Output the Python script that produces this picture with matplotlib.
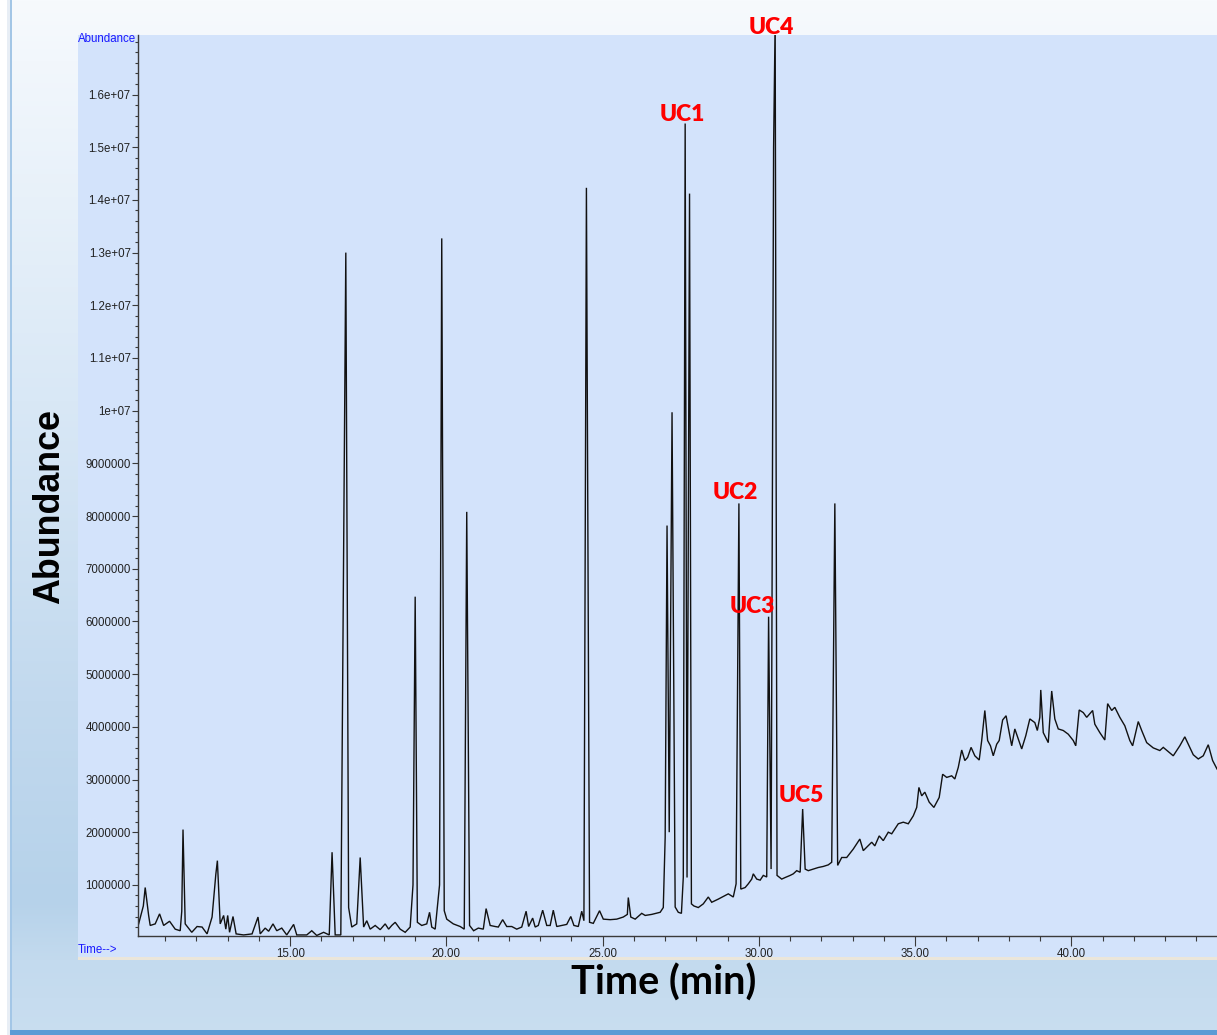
import numpy as np
import matplotlib
matplotlib.use("Agg")
import matplotlib.pyplot as plt
from matplotlib.patches import Rectangle
from matplotlib.ticker import FixedLocator, FixedFormatter

# ---------------- data ----------------
time_min = [
    10.15, 10.30, 10.36, 10.47, 10.52, 10.68, 10.82, 10.95, 11.14, 11.32, 11.48, 11.53, 11.57, 11.64,
    11.85, 12.02, 12.18, 12.34, 12.50, 12.62, 12.67, 12.76, 12.87, 12.94, 13.00, 13.06, 13.17, 13.27,
    13.51, 13.78, 13.97, 14.04, 14.20, 14.31, 14.45, 14.57, 14.73, 14.89, 15.11, 15.21, 15.53, 15.69,
    15.85, 16.07, 16.25, 16.34, 16.44, 16.62, 16.78, 16.87, 16.97, 17.13, 17.24, 17.35, 17.45, 17.56,
    17.72, 17.88, 18.04, 18.15, 18.25, 18.36, 18.52, 18.68, 18.84, 18.93, 19.00, 19.07, 19.21, 19.37,
    19.46, 19.53, 19.64, 19.78, 19.85, 19.93, 20.01, 20.22, 20.44, 20.57, 20.65, 20.74, 20.87, 21.02,
    21.18, 21.27, 21.40, 21.56, 21.66, 21.80, 21.93, 22.09, 22.25, 22.41, 22.55, 22.63, 22.76, 22.84,
    22.94, 23.08, 23.21, 23.32, 23.42, 23.53, 23.69, 23.85, 23.98, 24.08, 24.22, 24.33, 24.40, 24.48,
    24.58, 24.70, 24.90, 25.02, 25.24, 25.45, 25.66, 25.79, 25.82, 25.90, 26.04, 26.25, 26.36, 26.57,
    26.84, 26.94, 27.00, 27.06, 27.13, 27.22, 27.32, 27.42, 27.52, 27.58, 27.64, 27.70, 27.78, 27.84,
    27.92, 28.06, 28.22, 28.38, 28.49, 28.70, 28.92, 29.02, 29.18, 29.27, 29.36, 29.42, 29.56, 29.66,
    29.77, 29.82, 29.93, 30.04, 30.14, 30.25, 30.31, 30.39, 30.47, 30.52, 30.58, 30.73, 30.84, 31.00,
    31.10, 31.21, 31.32, 31.40, 31.48, 31.58, 31.74, 31.90, 32.06, 32.22, 32.33, 32.43, 32.52, 32.65,
    32.81, 33.02, 33.23, 33.34, 33.61, 33.71, 33.85, 33.98, 34.14, 34.25, 34.46, 34.62, 34.78, 34.94,
    35.05, 35.12, 35.21, 35.31, 35.45, 35.60, 35.77, 35.88, 36.01, 36.17, 36.27, 36.38, 36.49, 36.59,
    36.68, 36.79, 36.91, 37.05, 37.13, 37.23, 37.32, 37.41, 37.50, 37.61, 37.69, 37.80, 37.91, 37.98,
    38.09, 38.19, 38.41, 38.54, 38.67, 38.83, 38.91, 38.99, 39.02, 39.10, 39.26, 39.37, 39.47, 39.58,
    39.74, 39.90, 40.06, 40.14, 40.25, 40.38, 40.49, 40.68, 40.75, 40.91, 41.07, 41.16, 41.29, 41.39,
    41.55, 41.71, 41.87, 41.96, 42.14, 42.25, 42.41, 42.62, 42.83, 42.94, 43.10, 43.26, 43.47, 43.63,
    43.74, 43.90, 44.06, 44.22, 44.38, 44.52, 44.66,
]
abundance_M = [
    0.26, 0.60, 0.95, 0.42, 0.23, 0.26, 0.45, 0.23, 0.31, 0.16, 0.13, 0.50, 2.05, 0.26,
    0.10, 0.21, 0.20, 0.07, 0.39, 1.20, 1.46, 0.26, 0.42, 0.16, 0.42, 0.10, 0.40, 0.07,
    0.05, 0.07, 0.39, 0.07, 0.18, 0.12, 0.26, 0.13, 0.18, 0.05, 0.25, 0.05, 0.05, 0.13,
    0.04, 0.10, 0.05, 1.62, 0.05, 0.05, 13.00, 0.57, 0.20, 0.26, 1.52, 0.20, 0.32, 0.16,
    0.23, 0.15, 0.26, 0.16, 0.23, 0.29, 0.16, 0.10, 0.20, 1.00, 6.47, 0.29, 0.23, 0.26,
    0.48, 0.20, 0.16, 1.00, 13.27, 0.51, 0.35, 0.26, 0.21, 0.16, 8.08, 0.23, 0.13, 0.18,
    0.16, 0.55, 0.23, 0.21, 0.20, 0.34, 0.21, 0.21, 0.16, 0.20, 0.50, 0.21, 0.37, 0.20,
    0.23, 0.52, 0.23, 0.23, 0.52, 0.21, 0.23, 0.25, 0.40, 0.23, 0.21, 0.50, 0.32, 14.23,
    0.29, 0.27, 0.51, 0.35, 0.34, 0.35, 0.39, 0.44, 0.76, 0.39, 0.35, 0.46, 0.42, 0.44,
    0.48, 0.57, 1.90, 7.82, 2.00, 9.97, 0.58, 0.48, 0.46, 1.14, 15.45, 1.14, 14.12, 0.64,
    0.60, 0.57, 0.64, 0.77, 0.67, 0.73, 0.80, 0.83, 0.77, 1.02, 8.24, 0.92, 0.95, 1.02,
    1.11, 1.21, 1.11, 1.09, 1.18, 1.15, 6.09, 1.30, 15.00, 17.40, 1.18, 1.11, 1.14, 1.18,
    1.21, 1.27, 1.24, 2.44, 1.30, 1.27, 1.30, 1.33, 1.35, 1.38, 1.43, 8.24, 1.37, 1.52,
    1.52, 1.68, 1.87, 1.65, 1.81, 1.74, 1.93, 1.84, 2.00, 1.97, 2.16, 2.19, 2.16, 2.31,
    2.47, 2.85, 2.69, 2.76, 2.57, 2.47, 2.66, 3.10, 3.04, 3.07, 3.01, 3.23, 3.56, 3.36,
    3.42, 3.61, 3.45, 3.37, 3.74, 4.31, 3.74, 3.64, 3.45, 3.67, 3.74, 4.13, 4.21, 3.99,
    3.64, 3.96, 3.58, 3.83, 4.15, 4.08, 3.93, 4.18, 4.70, 3.89, 3.70, 4.68, 4.15, 3.96,
    3.93, 3.86, 3.74, 3.64, 4.32, 4.27, 4.18, 4.31, 4.05, 3.89, 3.75, 4.44, 4.31, 4.37,
    4.18, 4.02, 3.74, 3.64, 4.10, 3.93, 3.70, 3.60, 3.55, 3.61, 3.53, 3.45, 3.64, 3.81,
    3.67, 3.47, 3.39, 3.45, 3.66, 3.36, 3.20,
]
SCALE = 1e6

# annotated peaks (label anchor positions, time / abundance in millions)
uc_labels = ["UC1", "UC2", "UC3", "UC4", "UC5"]
uc_label_time = [27.54, 29.24, 29.80, 30.39, 31.34]
uc_label_abund_M = [15.50, 8.32, 6.16, 17.14, 2.57]

x_major = [15, 20, 25, 30, 35, 40]
x_major_labels = ["15.00", "20.00", "25.00", "30.00", "35.00", "40.00"]
x_minor = list(range(11, 45))
y_major_M = list(range(1, 17))
y_major_labels = ["1000000", "2000000", "3000000", "4000000", "5000000", "6000000",
                  "7000000", "8000000", "9000000", "1e+07", "1.1e+07", "1.2e+07",
                  "1.3e+07", "1.4e+07", "1.5e+07", "1.6e+07"]
y_minor_M = [i * 0.2 for i in range(0, 86)]

# ---------------- figure ----------------
W, H = 1217, 1035
fig = plt.figure(figsize=(W / 100, H / 100), dpi=100)

bg = fig.add_axes([0, 0, 1, 1])
bg.set_xlim(0, W)
bg.set_ylim(H, 0)
bg.axis("off")

# vertical background gradient
stops_y = [0, 60, 400, 700, 900, 960, 1035]
stops_c = ["#f7fafd", "#f2f7fc", "#d9e8f6", "#c2d9ee", "#b6d2ea", "#c3daee", "#c9def0"]
rgb = np.array([matplotlib.colors.to_rgb(c) for c in stops_c])
yy = np.arange(H)
grad = np.stack([np.interp(yy, stops_y, rgb[:, k]) for k in range(3)], axis=-1)[:, None, :]
bg.imshow(grad, extent=[0, W, H, 0], aspect="auto", zorder=0)

bg.add_patch(Rectangle((0, 0), 10, H, facecolor="white", edgecolor="none", zorder=1))
bg.add_patch(Rectangle((7, 0), 3, H, facecolor="#e8eef5", edgecolor="none", zorder=1))
bg.add_patch(Rectangle((10, 0), 2.2, H, facecolor="#a3c6e6", edgecolor="none", zorder=2))
bg.add_patch(Rectangle((10, 1030), W, 5, facecolor="#5b9bd5", edgecolor="none", zorder=2))
# chart panel
bg.add_patch(Rectangle((78, 35), W - 78, 922, facecolor="#d3e3fb", edgecolor="none", zorder=2))
bg.add_patch(Rectangle((78, 957), W - 78, 2.5, facecolor="#ebe6da", edgecolor="none", zorder=2))

bg.text(78, 33.5, "Abundance", color="#1a1aff", fontsize=8.3, family="Liberation Sans",
        ha="left", va="top", zorder=3)
bg.text(78, 950, "Time-->", color="#1a1aff", fontsize=8.3, family="Liberation Sans",
        ha="left", va="center", zorder=3)

bg.text(50, 507, "Abundance", rotation=90, fontsize=25.8, fontweight="bold",
        family="Liberation Sans", ha="center", va="center", color="black", zorder=3)
bg.text(664, 983, "Time (min)", fontsize=28.5, fontweight="bold",
        family=["Lato", "DejaVu Sans"], ha="center", va="center", color="black", zorder=3)

# main axes
ax_left = 137.7 / W
ax_bottom = 1 - 936 / H
ax = fig.add_axes([ax_left, ax_bottom, 1 - ax_left, (936 - 35) / H])
ax.set_facecolor("none")

t = np.array(time_min)
a = np.array(abundance_M) * SCALE
ax.plot(t, a, color="#111111", lw=1.0, solid_joinstyle="miter")

ax.set_xlim(10.12, 44.66)
ax.set_ylim(0.03 * SCALE, 17.13 * SCALE)

for s in ["top", "right"]:
    ax.spines[s].set_visible(False)
for s in ["left", "bottom"]:
    ax.spines[s].set_color("#3a3a3a")
    ax.spines[s].set_linewidth(1.0)

ax.xaxis.set_major_locator(FixedLocator(x_major))
ax.xaxis.set_major_formatter(FixedFormatter(x_major_labels))
ax.xaxis.set_minor_locator(FixedLocator(x_minor))
ax.yaxis.set_major_locator(FixedLocator([v * SCALE for v in y_major_M]))
ax.yaxis.set_major_formatter(FixedFormatter(y_major_labels))
ax.yaxis.set_minor_locator(FixedLocator([v * SCALE for v in y_minor_M]))

ax.tick_params(axis="x", which="major", length=7, width=0.8, color="#3a3a3a", pad=1.5,
               labelsize=8.3, labelcolor="#222222")
ax.tick_params(axis="x", which="minor", length=3.5, width=0.8, color="#3a3a3a")
ax.tick_params(axis="y", which="major", length=4.5, width=0.8, color="#3a3a3a", pad=0.5,
               labelsize=8.3, labelcolor="#222222")
ax.tick_params(axis="y", which="minor", length=2.2, width=0.8, color="#3a3a3a")
for lab in ax.get_xticklabels() + ax.get_yticklabels():
    lab.set_family("Liberation Sans")

for lbl, tx, ay in zip(uc_labels, uc_label_time, uc_label_abund_M):
    ax.text(tx, ay * SCALE, lbl, color="#ff0000", fontsize=16.5, fontweight="heavy",
            family=["Lato", "DejaVu Sans"], ha="center", va="baseline", clip_on=False, zorder=5)

fig.savefig("out.png", dpi=100)
